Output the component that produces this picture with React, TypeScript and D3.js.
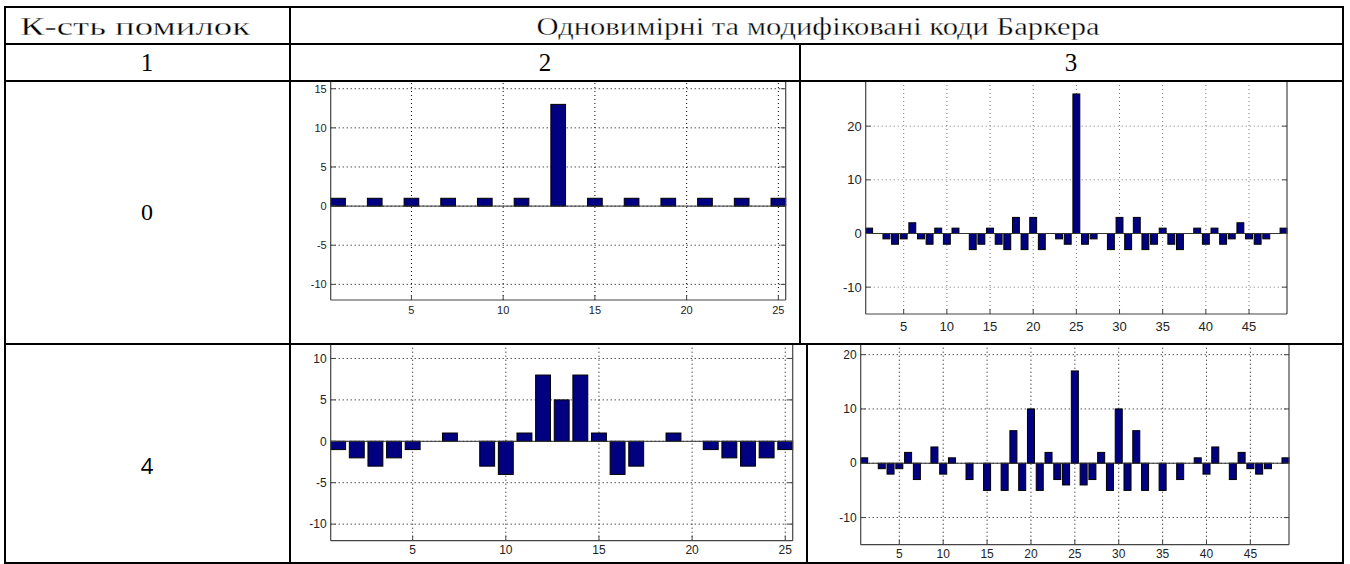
import React from "react";
import * as d3 from "d3";

// autocorrelation samples
const barker13Clean = [1, 0, 1, 0, 1, 0, 1, 0, 1, 0, 1, 0, 13, 0, 1, 0, 1, 0, 1, 0, 1, 0, 1, 0, 1];
const modifiedClean = [
  1, 0, -1, -2, -1, 2, -1, -2, 1, -2, 1, 0, -3, -2, 1, -2, -3, 3, -3, 3, -3, 0, -1, -2, 26,
  -2, -1, 0, -3, 3, -3, 3, -3, -2, 1, -2, -3, 0, 1, -2, 1, -2, -1, 2, -1, -2, -1, 0, 1,
];
const barker13Err4 = [-1, -2, -3, -2, -1, 0, 1, 0, -3, -4, 1, 8, 5, 8, 1, -4, -3, 0, 1, 0, -1, -2, -3, -2, -1];
const modifiedErr4 = [
  1, 0, -1, -2, -1, 2, -3, 0, 3, -2, 1, 0, -3, 0, -5, 0, -5, 6, -5, 10, -5, 2, -3, -4, 17,
  -4, -3, 2, -5, 10, -5, 6, -5, 0, -5, 0, -3, 0, 1, -2, 3, 0, -3, 2, -1, -2, -1, 0, 1,
];

const xTicks25 = [5, 10, 15, 20, 25];
const xTicks49 = [5, 10, 15, 20, 25, 30, 35, 40, 45];
const yTicksFive15 = [-10, -5, 0, 5, 10, 15];
const yTicksFive10 = [-10, -5, 0, 5, 10];
const yTicksTen = [-10, 0, 10, 20];

const headerLeft = "К-сть помилок";
const headerRight = "Одновимірні та модифіковані коди Баркера";
const columnNumbers = ["1", "2", "3"];
const errorCounts = ["0", "4"];

const W = 1350;
const H = 564;

function BarPanel({id, data, x0, x1, yBottom, yTop, yDomain, xTicks, yTicks, clip, font, labelDy, grid}) {
  const n = data.length;
  const x = d3.scaleLinear().domain([0.6, n + 0.4]).range([x0, x1]);
  const y = d3.scaleLinear().domain(yDomain).range([yBottom, yTop]);
  const bw = x(1.4) - x(0.6);
  const top = Math.max(yTop, clip.y);
  return (
    <g>
      <defs>
        <clipPath id={id}>
          <rect x={clip.x} y={clip.y} width={clip.w} height={clip.h} />
        </clipPath>
      </defs>
      <g clipPath={`url(#${id})`}>
        <rect x={x0} y={top - 20} width={x1 - x0} height={yBottom - top + 20} fill="#fff" />
        {xTicks.map((t) => (
          <line key={"gx" + t} x1={x(t)} x2={x(t)} y1={yBottom} y2={top - 20}
            stroke={grid} strokeWidth={1} strokeDasharray="1,3" />
        ))}
        {yTicks.map((t) => (
          <line key={"gy" + t} x1={x0} x2={x1} y1={y(t)} y2={y(t)}
            stroke={grid} strokeWidth={1} strokeDasharray="1,3" />
        ))}
        {data.map((v, i) =>
          v === 0 ? null : (
            <rect key={i} x={x(i + 1) - bw / 2} y={Math.min(y(v), y(0))} width={bw}
              height={Math.abs(y(v) - y(0))} fill="#000080" stroke="#000" strokeWidth={1} />
          )
        )}
        <line x1={x0} x2={x1} y1={y(0)} y2={y(0)} stroke="#333" strokeWidth={1} />
        <line x1={x0} x2={x0} y1={yBottom} y2={top - 20} stroke="#444" strokeWidth={1.2} />
        <line x1={x1} x2={x1} y1={yBottom} y2={top - 20} stroke="#444" strokeWidth={1.2} />
        <line x1={x0} x2={x1} y1={yBottom} y2={yBottom} stroke="#444" strokeWidth={1.2} />
        {xTicks.map((t) => (
          <line key={"tx" + t} x1={x(t)} x2={x(t)} y1={yBottom} y2={yBottom - 5} stroke="#444" />
        ))}
        {yTicks.map((t) => (
          <g key={"ty" + t}>
            <line x1={x0} x2={x0 + 5} y1={y(t)} y2={y(t)} stroke="#444" />
            <line x1={x1} x2={x1 - 5} y1={y(t)} y2={y(t)} stroke="#444" />
          </g>
        ))}
        <g fontFamily="Liberation Sans, Arial, sans-serif" fontSize={font} fill="#222">
          {xTicks.map((t) => (
            <text key={"lx" + t} x={x(t)} y={yBottom + labelDy} textAnchor="middle">{t}</text>
          ))}
          {yTicks.map((t) => (
            <text key={"ly" + t} x={x0 - 4} y={y(t)} dy="0.35em" textAnchor="end">{t}</text>
          ))}
        </g>
      </g>
    </g>
  );
}

export default function App() {
  const serif = "'Liberation Serif', 'DejaVu Serif', serif";
  const colCenters = [147, 545, 1071];
  return (
    <svg width={W} height={H} style={{position: "absolute", left: 0, top: 0, background: "#fff"}}>
      <rect width={W} height={H} fill="#fff" />

      <BarPanel id="c1" data={barker13Clean} x0={330.7} x1={785.7} yBottom={300} yTop={80.9}
        yDomain={[-12, 16]} xTicks={xTicks25} yTicks={yTicksFive15}
        clip={{x: 291, y: 82, w: 508, h: 261}} font={11} labelDy={14} grid="#000" />
      <BarPanel id="c2" data={modifiedClean} x0={865.7} x1={1287} yBottom={314} yTop={72.5}
        yDomain={[-15, 30]} xTicks={xTicks49} yTicks={yTicksTen}
        clip={{x: 801, y: 82, w: 541, h: 261}} font={13} labelDy={17} grid="#777" />
      <BarPanel id="c3" data={barker13Err4} x0={330.7} x1={792.7} yBottom={540.7} yTop={341.9}
        yDomain={[-12, 12]} xTicks={xTicks25} yTicks={yTicksFive10}
        clip={{x: 291, y: 345, w: 508, h: 217}} font={12} labelDy={13} grid="#000" />
      <BarPanel id="c4" data={modifiedErr4} x0={860.7} x1={1289} yBottom={544.7} yTop={343.8}
        yDomain={[-15, 22]} xTicks={xTicks49} yTicks={yTicksTen}
        clip={{x: 808, y: 345, w: 534, h: 217}} font={12} labelDy={13} grid="#000" />

      <g stroke="#000" strokeWidth={2}>
        {[7, 44, 81, 344, 563].map((yy) => (
          <line key={yy} x1={4} x2={1344} y1={yy} y2={yy} />
        ))}
        <line x1={5} x2={5} y1={6} y2={564} />
        <line x1={290} x2={290} y1={6} y2={564} />
        <line x1={800} x2={800} y1={44} y2={344} />
        <line x1={807} x2={807} y1={344} y2={564} />
        <line x1={1343} x2={1343} y1={6} y2={564} />
      </g>

      <g fontFamily={serif} fill="#000" textAnchor="middle">
        <g stroke="#fff" strokeWidth={0.35}>
          <text x={135} y={35} fontSize={26} textLength={230} lengthAdjust="spacingAndGlyphs">{headerLeft}</text>
          <text x={818} y={35} fontSize={26} textLength={563} lengthAdjust="spacingAndGlyphs">{headerRight}</text>
        </g>
        {columnNumbers.map((c, i) => (
          <text key={c} x={colCenters[i]} y={71} fontSize={25}>{c}</text>
        ))}
        <text x={147} y={220} fontSize={24}>{errorCounts[0]}</text>
      </g>
      <text x={147} y={474} fontSize={22} textAnchor="middle" fontFamily="Open Sans, Noto Sans, sans-serif">
        {errorCounts[1]}
      </text>
    </svg>
  );
}
